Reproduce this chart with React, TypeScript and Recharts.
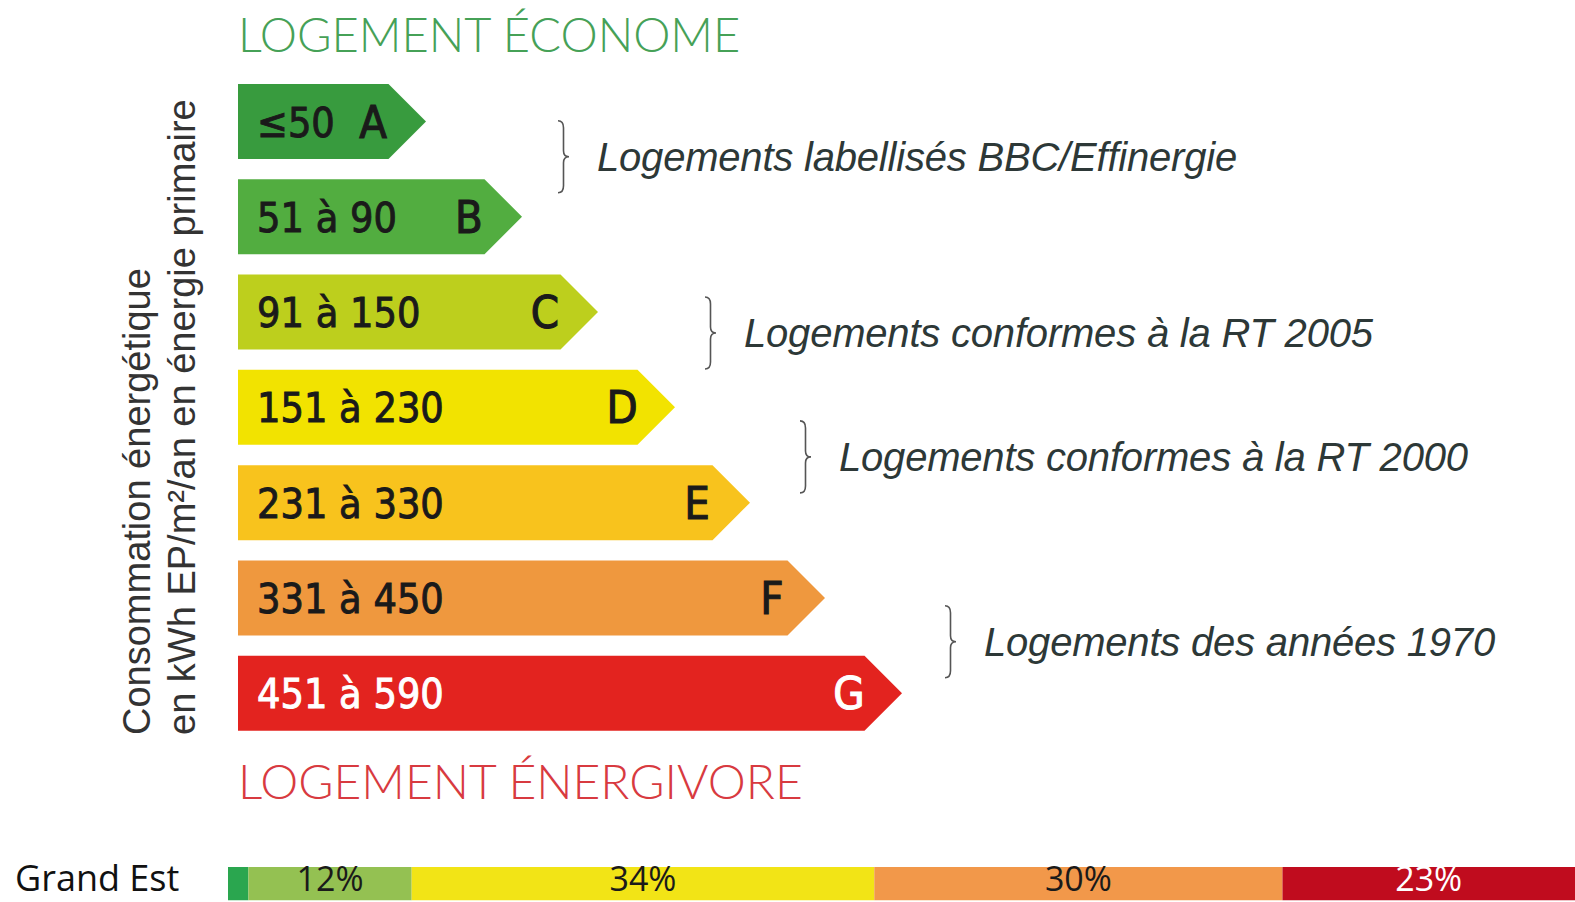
import React from 'react';
import { BarChart, Bar, XAxis, YAxis, Label, LabelList } from 'recharts';

// ---- Energy classes (arrows) ----
const classLetters = ['A', 'B', 'C', 'D', 'E', 'F', 'G'];
const classRanges = ['≤50', '51 à 90', '91 à 150', '151 à 230', '231 à 330', '331 à 450', '451 à 590'];
const arrowLengths = [188, 284, 360, 437, 512, 587, 664];
const classColors = ['#389b3e', '#52ad40', '#bdcf1d', '#f2e300', '#f8c31d', '#ef983e', '#e3231f'];
const classTextColors = ['#1a1a1a', '#1a1a1a', '#1a1a1a', '#1a1a1a', '#1a1a1a', '#1a1a1a', '#ffffff'];

// ---- Annotations ----
const noteTexts = [
  'Logements labellisés BBC/Effinergie',
  'Logements conformes à la RT 2005',
  'Logements conformes à la RT 2000',
  'Logements des années 1970',
];
const noteRows = ['A', 'C', 'D', 'F'];
const noteRowOffsets = [0.37, 0.22, 0.52, 0.46];
const noteBraceAt = [320, 467, 562, 707];

// ---- Regional distribution ----
const regionNames = ['Grand Est'];
const shareKeys = ['s1', 's2', 's3', 's4', 's5'];
const shareValues = [1.5, 12, 34, 30, 23];
const shareLabels = ['', '12%', '34%', '30%', '23%'];
const shareColors = ['#2aa64f', '#94c152', '#f2e416', '#f2984a', '#c00c1e'];
const shareLabelColors = ['#1a1a1a', '#1a1a1a', '#1a1a1a', '#1a1a1a', '#ffffff'];

const classRows = classLetters.map((letter, i) => ({
  letter,
  range: classRanges[i],
  length: arrowLengths[i],
  color: classColors[i],
  textColor: classTextColors[i],
}));

const shareRows = regionNames.map((name) => {
  const row: Record<string, any> = { name };
  shareKeys.forEach((k, i) => {
    row[k] = shareValues[i];
  });
  return row;
});

const PLOT_HEIGHT = 667;
const ROW_PITCH = PLOT_HEIGHT / classLetters.length;

const ARROW_FONT = "'DejaVu Sans Condensed', 'DejaVu Sans', sans-serif";
const NOTE_FONT = "'Liberation Sans', Arial, sans-serif";
const HEAD_FONT = "Lato, 'Open Sans', sans-serif";

function Brace({ x, y1, y2 }: { x: number; y1: number; y2: number }) {
  const w = 11;
  const m = (y1 + y2) / 2;
  const xm = x + w / 2;
  const d = `M${x},${y1} Q${xm},${y1} ${xm},${y1 + 7} L${xm},${m - 6} Q${xm},${m} ${x + w},${m} Q${xm},${m} ${xm},${m + 6} L${xm},${y2 - 7} Q${xm},${y2} ${x},${y2}`;
  return <path d={d} fill="none" stroke="#555" strokeWidth={1.6} />;
}

function ArrowShape(props: any) {
  const { x, y, width, height, payload } = props;
  const tip = height / 2;
  const cy = y + height / 2;
  const body = x + width - tip;
  const d = `M${x},${y} L${body},${y} L${x + width},${cy} L${body},${y + height} L${x},${y + height} Z`;
  const unit = width / payload.length;
  const notes = noteRows
    .map((r, i) => ({ r, i }))
    .filter((n) => n.r === payload.letter);
  return (
    <g>
      <path d={d} fill={payload.color} />
      <text
        x={x + 19}
        y={cy + 15}
        fill={payload.textColor}
        stroke={payload.textColor}
        strokeWidth={0.9}
        fontFamily={ARROW_FONT}
        fontSize={41}
        style={{ fontStretch: 'condensed' }}
      >
        {payload.range}
      </text>
      <text
        x={x + width - 53}
        y={cy + 16}
        textAnchor="middle"
        fill={payload.textColor}
        stroke={payload.textColor}
        strokeWidth={1.1}
        fontFamily={ARROW_FONT}
        fontSize={45}
        style={{ fontStretch: 'condensed' }}
      >
        {payload.letter}
      </text>
      {notes.map(({ i }) => {
        const bx = x + noteBraceAt[i] * unit;
        const ny = cy + noteRowOffsets[i] * ROW_PITCH;
        return (
          <g key={i}>
            <Brace x={bx} y1={ny - 36} y2={ny + 36} />
            <text
              x={bx + 39}
              y={ny + 14}
              fill="#2d3837"
              fontFamily={NOTE_FONT}
              fontStyle="italic"
              fontSize={40}
              letterSpacing={-0.2}
            >
              {noteTexts[i]}
            </text>
          </g>
        );
      })}
    </g>
  );
}

function AxisTitle(props: any) {
  const vb = props.viewBox || { x: 108, y: 74, width: 130, height: PLOT_HEIGHT };
  const yStart = vb.y + vb.height - 6;
  return (
    <g fontFamily={NOTE_FONT} fontSize={38} fill="#333">
      <text transform={`translate(${vb.x + 42},${yStart}) rotate(-90)`} textAnchor="start">
        Consommation énergétique
      </text>
      <text transform={`translate(${vb.x + 87},${yStart}) rotate(-90)`} textAnchor="start">
        en kWh EP/m²/an en énergie primaire
      </text>
    </g>
  );
}

function TopHeadline(props: any) {
  const vb = props.viewBox || { x: 238, y: 0, width: 1337, height: 74 };
  return (
    <text x={vb.x} y={vb.y + 52} fontFamily={HEAD_FONT} fontWeight={300} fontSize={47} fill="#46a157">
      LOGEMENT ÉCONOME
    </text>
  );
}

function BottomHeadline(props: any) {
  const vb = props.viewBox || { x: 238, y: 741, width: 1337, height: 79 };
  return (
    <text x={vb.x} y={vb.y + 58} fontFamily={HEAD_FONT} fontWeight={300} fontSize={48} fill="#d83a40">
      LOGEMENT ÉNERGIVORE
    </text>
  );
}

function RegionTick(props: any) {
  const { y, payload } = props;
  return (
    <text x={15} y={Number(y) + 7} fontFamily="'Open Sans', sans-serif" fontSize={36} fill="#111">
      {payload.value}
    </text>
  );
}

export default function App() {
  return (
    <div
      style={{
        position: 'absolute',
        left: 0,
        top: 0,
        width: 1575,
        height: 902,
        overflow: 'hidden',
        background: '#ffffff',
      }}
    >
      <div style={{ position: 'absolute', left: 0, top: 0 }}>
        <BarChart
          width={1575}
          height={820}
          layout="vertical"
          data={classRows}
          margin={{ top: 0, right: 0, bottom: 0, left: 108 }}
          barSize={75}
        >
          <XAxis
            xAxisId="top"
            orientation="top"
            type="number"
            domain={[0, 1337]}
            height={74}
            tick={false}
            axisLine={false}
            tickLine={false}
          >
            <Label content={TopHeadline} />
          </XAxis>
          <XAxis
            type="number"
            domain={[0, 1337]}
            height={79}
            tick={false}
            axisLine={false}
            tickLine={false}
          >
            <Label content={BottomHeadline} />
          </XAxis>
          <YAxis type="category" dataKey="letter" width={130} tick={false} axisLine={false} tickLine={false}>
            <Label content={AxisTitle} />
          </YAxis>
          <Bar dataKey="length" shape={ArrowShape} isAnimationActive={false} />
        </BarChart>
      </div>
      <div style={{ position: 'absolute', left: 0, top: 840 }}>
        <BarChart
          width={1575}
          height={62}
          layout="vertical"
          data={shareRows}
          margin={{ top: 25, right: 0, bottom: 0, left: 0 }}
          barSize={37}
        >
          <XAxis type="number" domain={[0, 99]} allowDataOverflow hide />
          <YAxis
            type="category"
            dataKey="name"
            width={228}
            axisLine={false}
            tickLine={false}
            tick={<RegionTick />}
          />
          {shareKeys.map((k, i) => (
            <Bar key={k} dataKey={k} stackId="share" fill={shareColors[i]} isAnimationActive={false}>
              <LabelList
                dataKey={k}
                content={(p: any) => (
                  <text
                    x={Number(p.x) + Number(p.width) / 2}
                    y={Number(p.y) + Number(p.height) - 9}
                    textAnchor="middle"
                    fontFamily="'Open Sans', sans-serif"
                    fontSize={34}
                    fill={shareLabelColors[i]}
                  >
                    {shareLabels[i]}
                  </text>
                )}
              />
            </Bar>
          ))}
        </BarChart>
      </div>
    </div>
  );
}
